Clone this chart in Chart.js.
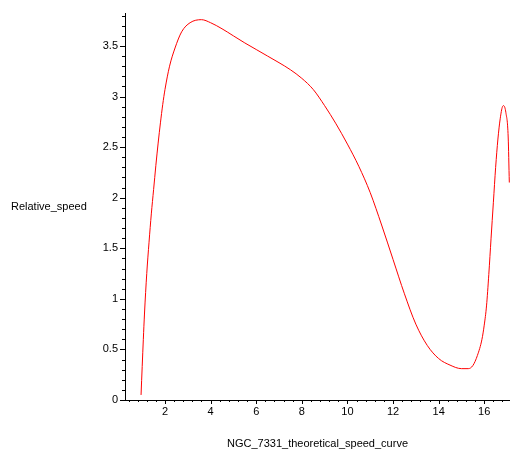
<!DOCTYPE html>
<html>
<head>
<meta charset="utf-8">
<script src="https://cdn.jsdelivr.net/npm/chart.js@4/dist/chart.umd.min.js"></script>
<style>
  html, body { margin: 0; padding: 0; background: #fff; }
  #wrap { width: 510px; height: 459px; }
</style>
</head>
<body>
<div id="wrap"><canvas id="chart"></canvas></div>
<script>
// values
const radius = [0.95, 1.0, 1.05, 1.1, 1.2, 1.3, 1.4, 1.5, 1.6, 1.7, 1.8, 1.9, 2.0, 2.2, 2.44, 2.73, 3.1, 3.6,
  4.0, 4.5, 5.0, 5.5, 6.0, 6.5, 7.0, 7.5, 8.0, 8.5, 9.0, 9.5, 10.0, 10.5, 11.0, 11.5, 12.0, 12.5,
  13.0, 13.5, 14.0, 14.5, 15.0, 15.3, 15.5, 15.7, 15.9, 16.0, 16.1, 16.2, 16.3, 16.4, 16.5, 16.6,
  16.7, 16.8, 16.85, 16.95, 17.05, 17.1];
const speed = [0.05, 0.33, 0.6, 0.85, 1.25, 1.56, 1.84, 2.08, 2.32, 2.54, 2.74, 2.92, 3.07, 3.3, 3.48, 3.64, 3.73, 3.76,
  3.73, 3.67, 3.6, 3.53, 3.465, 3.4, 3.335, 3.265, 3.18, 3.07, 2.91, 2.73, 2.53, 2.31, 2.05, 1.73, 1.39, 1.05,
  0.75, 0.54, 0.41, 0.345, 0.31, 0.31, 0.34, 0.44, 0.6, 0.74, 0.93, 1.24, 1.6, 1.95, 2.3, 2.58,
  2.78, 2.9, 2.91, 2.84, 2.6, 2.15];
const yMajor = [0, 0.5, 1, 1.5, 2, 2.5, 3, 3.5];
const xMajor = [2, 4, 6, 8, 10, 12, 14, 16];

const xTitle = 'NGC_7331_theoretical_speed_curve';
const yTitle = 'Relative_speed';
const font = { family: 'Liberation Sans, Arial, sans-serif', size: 11 };

// Maple-style tick marks, drawn through the chart's own scales
const axisTicks = {
  id: 'axisTicks',
  afterDraw(chart) {
    const { ctx, chartArea, scales } = chart;
    const xs = scales.x, ys = scales.y;
    ctx.save();
    ctx.strokeStyle = '#000';
    ctx.lineWidth = 1;
    ctx.beginPath();
    for (let i = 0; i <= 38; i++) {
      const v = i / 10;
      const py = Math.round(ys.getPixelForValue(v)) + 0.5;
      const len = i % 5 === 0 ? 5 : 3;
      ctx.moveTo(chartArea.left - len, py);
      ctx.lineTo(chartArea.left, py);
    }
    for (let i = 1; i <= 42; i++) {
      const v = i * 0.4;
      if (v > xs.max) break;
      const px = Math.round(xs.getPixelForValue(v)) + 0.5;
      const len = i % 5 === 0 ? 4 : 2;
      ctx.moveTo(px, chartArea.bottom);
      ctx.lineTo(px, chartArea.bottom + len);
    }
    ctx.stroke();
    // horizontal y-axis label, as in the reference
    ctx.fillStyle = '#000';
    ctx.font = '11px ' + font.family;
    ctx.textBaseline = 'middle';
    ctx.textAlign = 'left';
    ctx.fillText(yTitle, 11, 207);
    ctx.restore();
  }
};

new Chart(document.getElementById('chart'), {
  type: 'line',
  data: {
    datasets: [{
      data: radius.map((r, i) => ({ x: r, y: speed[i] })),
      borderColor: '#ff0000',
      borderWidth: 1,
      pointRadius: 0,
      fill: false,
      cubicInterpolationMode: 'monotone'
    }]
  },
  options: {
    responsive: true,
    maintainAspectRatio: false,
    animation: false,
    layout: { padding: { top: 13, right: 0, bottom: 0, left: 0 } },
    plugins: { legend: { display: false }, tooltip: { enabled: false } },
    scales: {
      x: {
        type: 'linear',
        min: 0.246,
        max: 17.13,
        afterFit: s => { s.height = 59; },
        afterBuildTicks: s => { s.ticks = xMajor.map(v => ({ value: v })); },
        grid: { display: false, drawTicks: false },
        border: { display: true, color: '#000', width: 1 },
        ticks: { color: '#000', font: font, padding: 5, maxRotation: 0, callback: v => String(v) },
        title: { display: true, text: xTitle, color: '#000', font: font, padding: { top: 0, bottom: 8 } }
      },
      y: {
        type: 'linear',
        min: 0,
        max: 3.82,
        afterFit: s => { s.width = 125; },
        afterBuildTicks: s => { s.ticks = yMajor.map(v => ({ value: v })); },
        grid: { display: false, drawTicks: false },
        border: { display: true, color: '#000', width: 1 },
        ticks: { color: '#000', font: font, padding: 7, callback: v => String(v) }
      }
    }
  },
  plugins: [axisTicks]
});
</script>
</body>
</html>
